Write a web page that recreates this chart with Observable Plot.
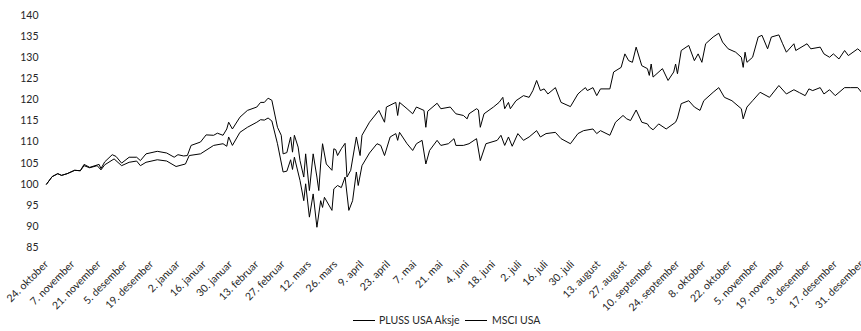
<!DOCTYPE html>
<html>
<head>
<meta charset="utf-8">
<script src="https://cdn.jsdelivr.net/npm/d3@7"></script>
<script src="https://cdn.jsdelivr.net/npm/@observablehq/plot@0.6"></script>
<style>
  html, body { margin: 0; padding: 0; background: #fff; }
  #wrap { position: relative; width: 861px; height: 331px; overflow: hidden; font-family: Lato, "Open Sans", sans-serif; }
  #legend { position: absolute; left: 0; top: 0; width: 861px; height: 331px; pointer-events: none; }
  .sw { position: absolute; height: 0; border-top: 1px solid #000; width: 22px; top: 320px; }
  .lt { position: absolute; top: 313px; font-size: 10.5px; color: #262626; line-height: 14px; white-space: nowrap; }
</style>
</head>
<body>
<div id="wrap">
  <div id="chart"></div>
  <div id="legend"></div>
</div>
<script>
// Series names (legend)
const seriesNames = ["PLUSS USA Aksje", "MSCI USA"];

// PLUSS USA Aksje (upper line)
const plussDates = [
"2019-10-24","2019-10-27","2019-10-30","2019-11-01","2019-11-04","2019-11-08","2019-11-11","2019-11-13","2019-11-16","2019-11-21",
"2019-11-22","2019-11-24","2019-11-28","2019-11-30","2019-12-03","2019-12-07","2019-12-11","2019-12-13","2019-12-16","2019-12-22",
"2019-12-27","2019-12-31","2020-01-02","2020-01-05","2020-01-07","2020-01-09","2020-01-14","2020-01-17","2020-01-21","2020-01-23",
"2020-01-26","2020-01-28","2020-01-29","2020-01-31","2020-02-04","2020-02-08","2020-02-13","2020-02-15","2020-02-17","2020-02-19",
"2020-02-21","2020-02-24","2020-02-26","2020-02-27","2020-02-29","2020-03-02","2020-03-03","2020-03-04","2020-03-06","2020-03-07",
"2020-03-09","2020-03-10","2020-03-12","2020-03-14","2020-03-16","2020-03-17","2020-03-18","2020-03-19","2020-03-21","2020-03-24",
"2020-03-25","2020-03-26","2020-03-27","2020-03-29","2020-03-31","2020-04-01","2020-04-03","2020-04-06","2020-04-08","2020-04-09",
"2020-04-13","2020-04-18","2020-04-21","2020-04-22","2020-04-27","2020-04-28","2020-04-29","2020-05-03","2020-05-06","2020-05-08",
"2020-05-12","2020-05-13","2020-05-14","2020-05-19","2020-05-21","2020-05-26","2020-05-29","2020-06-02","2020-06-04","2020-06-05",
"2020-06-09","2020-06-10","2020-06-11","2020-06-13","2020-06-18","2020-06-21","2020-06-23","2020-06-24","2020-06-26","2020-06-27",
"2020-06-30","2020-07-04","2020-07-07","2020-07-09","2020-07-11","2020-07-13","2020-07-15","2020-07-17","2020-07-21","2020-07-24",
"2020-07-29","2020-08-02","2020-08-04","2020-08-06","2020-08-07","2020-08-10","2020-08-12","2020-08-14","2020-08-19","2020-08-21",
"2020-08-25","2020-08-27","2020-08-29","2020-08-31","2020-09-02","2020-09-05","2020-09-08","2020-09-09","2020-09-10","2020-09-11",
"2020-09-16","2020-09-19","2020-09-22","2020-09-23","2020-09-24","2020-09-26","2020-09-30","2020-10-03","2020-10-05","2020-10-07",
"2020-10-09","2020-10-13","2020-10-16","2020-10-18","2020-10-21","2020-10-25","2020-10-28","2020-10-29","2020-10-30","2020-10-31",
"2020-11-03","2020-11-06","2020-11-08","2020-11-11","2020-11-13","2020-11-17","2020-11-19","2020-11-21","2020-11-25","2020-11-26",
"2020-12-02","2020-12-04","2020-12-09","2020-12-11","2020-12-14","2020-12-16","2020-12-19","2020-12-22","2020-12-24","2020-12-29",
"2020-12-31"];
const plussValues = [
100,101.8,102.5,102.1,102.5,103.3,103.2,104.7,104.0,104.7,
103.7,105.3,107.0,106.6,105.0,106.4,106.4,105.6,107.2,107.8,
107.4,106.4,107.0,106.7,106.8,109.2,110.0,111.7,111.6,112.1,
111.6,113.1,114.7,113.1,115.9,117.5,118.3,119.4,119.4,120.4,
119.9,113.5,111.6,107.2,107.5,111.2,107.6,111.6,108.8,105.6,
101.7,107.2,98.5,107.2,101.7,98.5,104.8,109.6,104.8,103.3,
108.4,108.2,106.8,108.4,109.7,101.7,103.3,111.2,106.8,111.6,
114.7,117.5,114.7,118.3,119.4,116.3,119.4,117.9,116.7,118.3,
117.5,113.5,117.3,119.2,117.9,118.3,116.7,116.3,115.5,116.7,
117.9,117.6,113.5,116.7,118.3,119.4,120.6,117.9,119.4,117.9,
119.8,121.0,120.6,122.2,124.6,122.2,122.6,121.4,122.9,119.4,
118.4,121.4,122.2,122.9,122.2,122.9,121.0,122.6,122.6,126.6,
127.7,130.9,129.3,128.9,132.5,128.1,127.4,125.8,128.5,125.4,
127.4,124.6,126.6,128.5,126.2,131.7,132.9,129.3,130.9,128.9,
133.3,134.9,135.8,133.7,132.1,131.3,130.1,127.7,131.3,128.9,
130.1,134.9,135.3,132.1,134.9,135.4,133.3,131.3,133.3,131.7,
133.3,132.1,132.5,130.9,130.1,130.9,129.7,131.7,130.5,132.1,
131.3];

// MSCI USA (lower line)
const msciDates = [
"2019-10-24","2019-10-27","2019-10-30","2019-11-01","2019-11-04","2019-11-08","2019-11-11","2019-11-13","2019-11-16","2019-11-20",
"2019-11-22","2019-11-24","2019-11-29","2019-12-03","2019-12-07","2019-12-11","2019-12-13","2019-12-16","2019-12-22","2019-12-27",
"2020-01-01","2020-01-06","2020-01-08","2020-01-14","2020-01-21","2020-01-26","2020-01-28","2020-01-29","2020-01-31","2020-02-04",
"2020-02-08","2020-02-13","2020-02-15","2020-02-17","2020-02-19","2020-02-21","2020-02-24","2020-02-27","2020-02-29","2020-03-02",
"2020-03-03","2020-03-04","2020-03-07","2020-03-09","2020-03-10","2020-03-12","2020-03-14","2020-03-16","2020-03-18","2020-03-19",
"2020-03-20","2020-03-24","2020-03-25","2020-03-27","2020-03-29","2020-03-31","2020-04-02","2020-04-04","2020-04-06","2020-04-07",
"2020-04-09","2020-04-13","2020-04-17","2020-04-19","2020-04-21","2020-04-24","2020-04-27","2020-04-28","2020-04-29","2020-05-03",
"2020-05-06","2020-05-08","2020-05-11","2020-05-13","2020-05-15","2020-05-19","2020-05-21","2020-05-25","2020-05-28","2020-05-29",
"2020-06-02","2020-06-05","2020-06-09","2020-06-11","2020-06-14","2020-06-20","2020-06-22","2020-06-24","2020-06-26","2020-06-28",
"2020-07-01","2020-07-04","2020-07-07","2020-07-11","2020-07-13","2020-07-16","2020-07-21","2020-07-24","2020-07-29","2020-08-02",
"2020-08-05","2020-08-10","2020-08-12","2020-08-14","2020-08-19","2020-08-22","2020-08-26","2020-08-28","2020-08-30","2020-09-02",
"2020-09-05","2020-09-08","2020-09-09","2020-09-11","2020-09-14","2020-09-18","2020-09-23","2020-09-24","2020-09-26","2020-09-30",
"2020-10-03","2020-10-06","2020-10-08","2020-10-13","2020-10-16","2020-10-19","2020-10-23","2020-10-28","2020-10-29","2020-10-31",
"2020-11-03","2020-11-07","2020-11-12","2020-11-17","2020-11-21","2020-11-25","2020-11-28","2020-12-01","2020-12-03","2020-12-05",
"2020-12-09","2020-12-11","2020-12-14","2020-12-17","2020-12-22","2020-12-25","2020-12-29","2020-12-31"];
const msciValues = [
100,101.8,102.5,102.1,102.5,103.3,103.2,104.4,103.9,104.4,
103.4,104.6,106.0,104.4,105.2,105.5,104.4,105.2,105.8,105.5,
104.2,104.8,106.8,107.2,109.2,109.6,109.0,111.2,109.2,112.3,
113.5,114.7,115.3,115.2,115.7,115.0,109.6,102.9,103.1,105.8,
103.5,106.4,100.9,96.1,100.1,92.2,97.7,89.8,96.1,94.5,
96.9,93.8,98.9,99.7,99.2,101.7,93.8,96.1,102.9,99.7,
104.4,107.4,109.6,109.2,106.8,111.2,112.0,110.4,112.3,109.6,
108.0,109.6,110.4,104.8,108.0,110.4,109.2,109.6,110.8,109.2,
109.2,109.6,110.8,105.6,109.6,110.4,111.6,109.2,111.2,109.0,
112.0,110.4,111.2,112.7,111.2,112.0,112.3,110.8,109.6,112.0,
112.7,113.1,112.0,112.7,111.6,114.7,116.3,115.5,115.1,117.6,
114.7,114.3,113.6,112.9,114.3,113.1,114.7,115.7,119.1,119.8,
118.3,117.5,119.8,121.8,122.9,120.6,119.8,117.9,115.5,118.3,
119.8,121.8,120.6,123.4,121.4,122.4,121.7,121.0,122.6,122.2,
122.9,121.4,122.4,121.0,122.9,122.9,122.9,121.8];

// Axis ticks
const yTicks = [85, 90, 95, 100, 105, 110, 115, 120, 125, 130, 135, 140];
const xTickDates = ["2019-10-24","2019-11-07","2019-11-21","2019-12-05","2019-12-19","2020-01-02","2020-01-16","2020-01-30","2020-02-13","2020-02-27","2020-03-12","2020-03-26","2020-04-09","2020-04-23","2020-05-07","2020-05-21","2020-06-04","2020-06-18","2020-07-02","2020-07-16","2020-07-30","2020-08-13","2020-08-27","2020-09-10","2020-09-24","2020-10-08","2020-10-22","2020-11-05","2020-11-19","2020-12-03","2020-12-17","2020-12-31"];
const xTickLabels = ["24. oktober","7. november","21. november","5. desember","19. desember","2. januar","16. januar","30. januar","13. februar","27. februar","12. mars","26. mars","9. april","23. april","7. mai","21. mai","4. juni","18. juni","2. juli","16. juli","30. juli","13. august","27. august","10. september","24. september","8. oktober","22. oktober","5. november","19. november","3. desember","17. desember","31. desember"];

const parse = d3.utcParse("%Y-%m-%d");
const rows = [
  ...plussDates.map((d, i) => ({date: parse(d), value: plussValues[i], series: seriesNames[0]})),
  ...msciDates.map((d, i) => ({date: parse(d), value: msciValues[i], series: seriesNames[1]}))
];
const tickDates = xTickDates.map(parse);
const labelMap = new Map(tickDates.map((d, i) => [+d, xTickLabels[i]]));

const chart = Plot.plot({
  width: 861,
  height: 305,
  marginTop: 15,
  marginBottom: 58,
  marginLeft: 46,
  marginRight: 0,
  style: {fontFamily: "Lato, 'Open Sans', sans-serif", fontSize: "10px", color: "#262626", background: "#fff", overflow: "visible"},
  x: {type: "utc", domain: [tickDates[0], tickDates[tickDates.length - 1]]},
  y: {domain: [85, 140]},
  marks: [
    Plot.axisY({ticks: yTicks, tickSize: 0, tickPadding: 8, label: null, fontSize: 10.5}),
    Plot.axisX({ticks: tickDates, tickFormat: d => labelMap.get(+d), tickRotate: -45, tickSize: 0, tickPadding: 15, label: null, fontSize: 10.5}),
    Plot.line(rows, {x: "date", y: "value", z: "series", stroke: "#000", strokeWidth: 1})
  ]
});
document.getElementById("chart").appendChild(chart);

// Legend below the plot
const legend = document.getElementById("legend");
const legendPos = [[353, 379], [465, 492]];
seriesNames.forEach((name, i) => {
  const sw = document.createElement("div");
  sw.className = "sw";
  sw.style.left = legendPos[i][0] + "px";
  legend.appendChild(sw);
  const t = document.createElement("div");
  t.className = "lt";
  t.style.left = legendPos[i][1] + "px";
  t.textContent = name;
  legend.appendChild(t);
});
</script>
</body>
</html>
